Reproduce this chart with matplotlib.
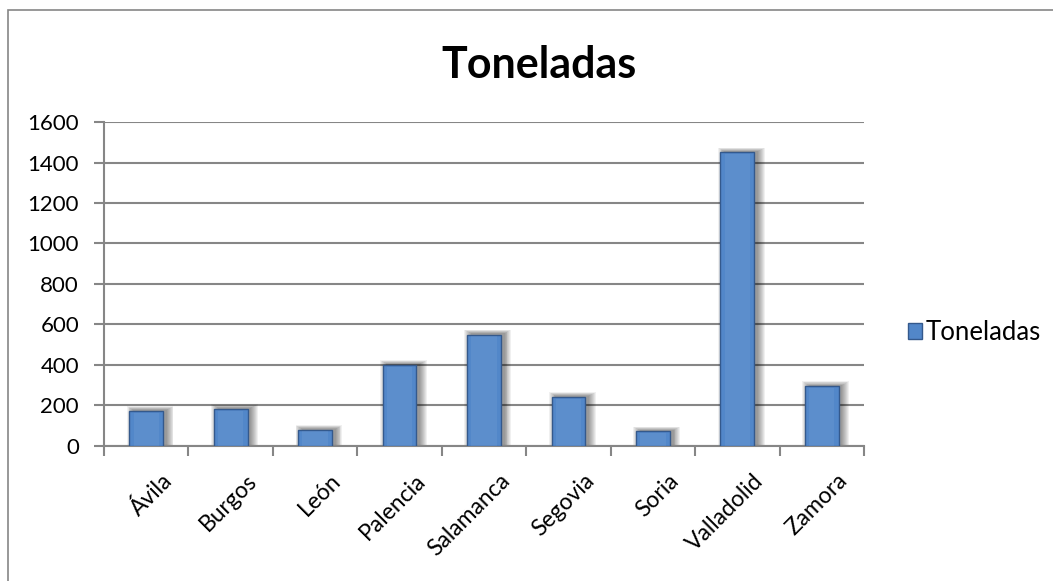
import matplotlib.pyplot as plt
import matplotlib.transforms as mtransforms
from matplotlib.patches import Rectangle

# Datos
provincias = ['Ávila', 'Burgos', 'León', 'Palencia', 'Salamanca',
              'Segovia', 'Soria', 'Valladolid', 'Zamora']
toneladas = [173, 183, 80, 400, 550, 242, 72, 1450, 295]

plt.rcParams['font.family'] = ['Lato', 'DejaVu Sans']

fig = plt.figure(figsize=(10.53, 5.81), dpi=100)
ax = fig.add_axes([0.0988, 0.2324, 0.7217, 0.5576])

x = list(range(len(provincias)))

# Sombra difuminada de las barras (desplazada arriba a la derecha)
for k in range(8):
    ax.bar([i + 0.045 for i in x], [v + 6 + k * 2.5 for v in toneladas],
           width=0.40 + k * 0.022, color='black', alpha=0.06, zorder=2,
           linewidth=0)

# Barras
ax.bar(x, toneladas, width=0.4, color='#5287C9', edgecolor='#34598C',
       linewidth=1, zorder=3, label='Toneladas')
# brillo interior
ax.bar(x, [v - 8 for v in toneladas], width=0.3, color='white', alpha=0.06,
       linewidth=0, zorder=4)

# Ejes
ax.set_xlim(-0.5, len(provincias) - 0.5)
ax.set_ylim(0, 1600)
ax.set_yticks(range(0, 1601, 200))
ax.yaxis.grid(True, color='#868686', linewidth=1.5, zorder=0)
ax.set_axisbelow(True)

# Etiquetas del eje x giradas 45 grados
ax.set_xticks(x)
ax.set_xticklabels([])
desplaza = mtransforms.ScaledTranslation(15 / 100, -24 / 100, fig.dpi_scale_trans)
for i, nombre in zip(x, provincias):
    ax.text(i, 0, nombre, rotation=45, ha='right', va='top',
            rotation_mode='anchor', fontsize=16.5,
            transform=ax.get_xaxis_transform() + desplaza)
ax.set_xticks([i - 0.5 for i in range(len(provincias) + 1)], minor=True)
ax.tick_params(axis='x', which='major', length=0)
ax.tick_params(axis='x', which='minor', length=7, width=1.5, color='#868686')
ax.tick_params(axis='y', length=7, width=1.5, color='#868686', labelsize=16,
               pad=11)

for lado in ['top', 'right']:
    ax.spines[lado].set_visible(False)
for lado in ['left', 'bottom']:
    ax.spines[lado].set_color('#868686')
    ax.spines[lado].set_linewidth(1.5)

# Titulo y leyenda
fig.text(0.512, 0.888, 'Toneladas', ha='center', va='center',
         fontsize=31, fontweight='bold')
ax.legend(loc='center left', bbox_to_anchor=(1.058, 0.35), frameon=False,
          fontsize=18.5, handlelength=0.55, handleheight=0.55,
          handletextpad=0.15, borderpad=0, borderaxespad=0)

# Marco del grafico
fig.patches.append(Rectangle((8 / 1053, -0.1), 1.2, 1 - 10 / 581 + 0.1,
                             transform=fig.transFigure, fill=False,
                             edgecolor='#868686', linewidth=1.2))

plt.savefig('out.png')
